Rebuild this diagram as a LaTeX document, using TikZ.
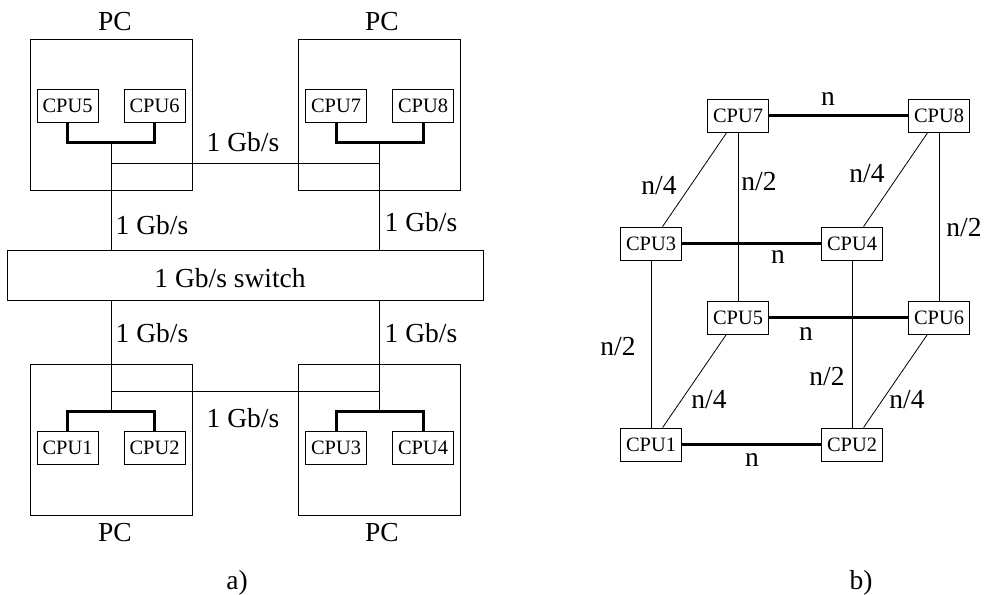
\documentclass[tikz,border=0pt]{standalone}
\usepackage{fontspec}
\setmainfont{Liberation Serif}
\begin{document}
\begin{tikzpicture}[x=1bp,y=-1bp,
  pcbox/.style={draw,line width=0.8bp,minimum width=162bp,minimum height=151bp,inner sep=0pt},
  cpu/.style={draw,fill=white,line width=0.8bp,minimum width=61bp,minimum height=33bp,inner sep=0pt,font=\fontsize{20.5}{23}\selectfont},
  lbl/.style={inner sep=0pt,font=\fontsize{27.6}{30}\selectfont},
  thinln/.style={line width=0.8bp},
  thickln/.style={line width=3bp}]
\useasboundingbox (0,0) rectangle (984,595);
% ---------- a) ----------
\node[pcbox] (pc1) at (111,114.5) {};
\node[pcbox] (pc2) at (379.5,114.5) {};
\node[pcbox] (pc3) at (111,439.5) {};
\node[pcbox] (pc4) at (379.5,439.5) {};
\node[lbl] (pl1) at (115,22) {PC};
\node[lbl] (pl2) at (382,22) {PC};
\node[lbl] (pl3) at (115,533) {PC};
\node[lbl] (pl4) at (382,533) {PC};
\node[draw,line width=0.8bp,minimum width=476bp,minimum height=50bp,inner sep=0pt] (sw) at (245,275) {};
\node[lbl] (swt) at (230,278) {1 Gb/s switch};
\node[cpu] (a5) at (67.5,106) {CPU5};
\node[cpu] (a6) at (154.5,106) {CPU6};
\node[cpu] (a7) at (336,106) {CPU7};
\node[cpu] (a8) at (423,106) {CPU8};
\node[cpu] (a1) at (67.5,448) {CPU1};
\node[cpu] (a2) at (154.5,448) {CPU2};
\node[cpu] (a3) at (336,448) {CPU3};
\node[cpu] (a4) at (423,448) {CPU4};
\coordinate (j1) at (111,142.5);
\coordinate (j2) at (379.5,142.5);
\coordinate (j3) at (111,411.5);
\coordinate (j4) at (379.5,411.5);
\coordinate (h1) at (111,163);
\coordinate (h2) at (379.5,163);
\coordinate (h3) at (111,391);
\coordinate (h4) at (379.5,391);
\draw[thickln] (a5.south) -- ++(0,20) -| (a6.south);
\draw[thickln] (a7.south) -- ++(0,20) -| (a8.south);
\draw[thickln] (a1.north) -- ++(0,-20) -| (a2.north);
\draw[thickln] (a3.north) -- ++(0,-20) -| (a4.north);
\draw[thinln] (j1) -- (j1 |- sw.north);
\draw[thinln] (j2) -- (j2 |- sw.north);
\draw[thinln] (j3) -- (j3 |- sw.south);
\draw[thinln] (j4) -- (j4 |- sw.south);
\draw[thinln] (h1) -- (h2);
\draw[thinln] (h3) -- (h4);
\node[lbl] (g1) at (243,142) {1 Gb/s};
\node[lbl] (g2) at (152,225) {1 Gb/s};
\node[lbl] (g3) at (421,222) {1 Gb/s};
\node[lbl] (g4) at (152,333) {1 Gb/s};
\node[lbl] (g5) at (421,333) {1 Gb/s};
\node[lbl] (g6) at (243,418) {1 Gb/s};
\node[lbl] (capa) at (237,583) {a)};
% ---------- b) ----------
\node[cpu] (b7) at (738,116) {CPU7};
\node[cpu] (b8) at (939,116) {CPU8};
\node[cpu] (b3) at (651,243.5) {CPU3};
\node[cpu] (b4) at (852,243.5) {CPU4};
\node[cpu] (b5) at (738,317.5) {CPU5};
\node[cpu] (b6) at (939,317.5) {CPU6};
\node[cpu] (b1) at (651,444.5) {CPU1};
\node[cpu] (b2) at (852,444.5) {CPU2};
\draw[thickln] (b7) -- (b8);
\draw[thickln] (b3) -- (b4);
\draw[thickln] (b5) -- (b6);
\draw[thickln] (b1) -- (b2);
\draw[thinln] (b7) -- (b3);
\draw[thinln] (b7) -- (b5);
\draw[thinln] (b8) -- (b4);
\draw[thinln] (b8) -- (b6);
\draw[thinln] (b3) -- (b1);
\draw[thinln] (b5) -- (b1);
\draw[thinln] (b4) -- (b2);
\draw[thinln] (b6) -- (b2);
\node[lbl] (n1) at (828,99) {n};
\node[lbl] (n2) at (778,257) {n};
\node[lbl] (n3) at (806,334) {n};
\node[lbl] (n4) at (752,460) {n};
\node[lbl] (q1) at (659,186) {n/4};
\node[lbl] (q2) at (759,182) {n/2};
\node[lbl] (q3) at (867,174) {n/4};
\node[lbl] (q4) at (964,228) {n/2};
\node[lbl] (q5) at (618,347) {n/2};
\node[lbl] (q6) at (709,400) {n/4};
\node[lbl] (q7) at (827,377) {n/2};
\node[lbl] (q8) at (907,400) {n/4};
\node[lbl] (capb) at (861,583) {b)};
\end{tikzpicture}
\end{document}
